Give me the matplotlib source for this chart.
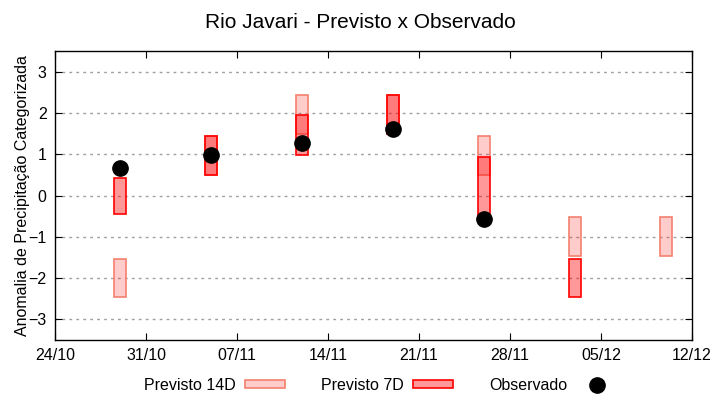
from datetime import datetime

import matplotlib
matplotlib.use("Agg")
import matplotlib.dates as mdates
import matplotlib.pyplot as plt
from matplotlib.lines import Line2D
from matplotlib.patches import Patch

plt.rcParams["font.family"] = ["Liberation Sans", "DejaVu Sans"]

# Semanas de previsao (datas centrais das barras)
dates = ["29/10", "05/11", "12/11", "19/11", "26/11", "03/12", "10/12"]

# Previsto 14D: limites inferior / superior
prev14_low = [-2.47, 0.50, 1.50, 1.50, 0.50, -1.47, -1.47]
prev14_high = [-1.54, 1.43, 2.44, 2.44, 1.43, -0.53, -0.53]

# Previsto 7D: limites inferior / superior (None = sem previsao)
prev7_low = [-0.46, 0.50, 0.98, 1.50, -0.50, -2.47, None]
prev7_high = [0.42, 1.43, 1.95, 2.44, 0.94, -1.54, None]

# Observado (None = sem observacao)
observed = [0.67, 0.97, 1.28, 1.60, -0.58, None, None]

tick_labels = ["24/10", "31/10", "07/11", "14/11", "21/11", "28/11", "05/12", "12/12"]

YEAR = 2023


def to_date(s):
    d, m = s.split("/")
    return datetime(YEAR, int(m), int(d))


x = [mdates.date2num(to_date(d)) for d in dates]
ticks = [mdates.date2num(to_date(t)) for t in tick_labels]
bar_w = 0.95

fig = plt.figure(figsize=(7.2, 4.0), dpi=100)
ax = fig.add_axes([55 / 720, 60 / 400, 637 / 720, 289 / 400])

# Previsto 14D
for xi, lo, hi in zip(x, prev14_low, prev14_high):
    ax.bar(xi, hi - lo, bottom=lo, width=bar_w, facecolor=(1, 0, 0, 0.2),
           edgecolor="#f4806e", linewidth=1.2, zorder=2)

# Previsto 7D
for xi, lo, hi in zip(x, prev7_low, prev7_high):
    if lo is None:
        continue
    ax.bar(xi, hi - lo, bottom=lo, width=bar_w, facecolor=(1, 0, 0, 0.4),
           edgecolor="red", linewidth=1.2, zorder=3)

# Observado
obs_x = [xi for xi, o in zip(x, observed) if o is not None]
obs_y = [o for o in observed if o is not None]
ax.plot(obs_x, obs_y, "o", color="black", markersize=11, zorder=4)

ax.set_xlim(ticks[0], ticks[-1])
ax.set_ylim(-3.5, 3.5)
ax.set_xticks(ticks)
ax.set_xticklabels(tick_labels)
ax.set_yticks(range(-3, 4))
ax.tick_params(direction="in", length=5, labelsize=11.5, top=True, right=True,
               color="black", pad=6)
ax.grid(axis="y", linestyle=(0, (2, 3)), color="#a0a0a0", linewidth=1)
ax.set_axisbelow(True)
for sp in ax.spines.values():
    sp.set_linewidth(1)

ax.set_ylabel("Anomalia de Precipitação Categorizada", fontsize=11.5, labelpad=-1)
fig.suptitle("Rio Javari - Previsto x Observado", fontsize=15,
             y=1 - 28 / 400, va="baseline")

handles = [
    Patch(facecolor=(1, 0, 0, 0.2), edgecolor="#f4806e", linewidth=1.2),
    Patch(facecolor=(1, 0, 0, 0.4), edgecolor="red", linewidth=1.2),
    Line2D([], [], linestyle="none", marker="o", color="black", markersize=11),
]
labels = ["Previsto 14D", "Previsto 7D", "Observado"]
fig.legend(handles, labels, loc="center", bbox_to_anchor=(0.528, 0.037), ncol=3,
           frameon=False, markerfirst=False, fontsize=11.5, handlelength=2.5,
           handleheight=0.35, columnspacing=2.25, handletextpad=0.6)

fig.savefig("out.png", dpi=100)
